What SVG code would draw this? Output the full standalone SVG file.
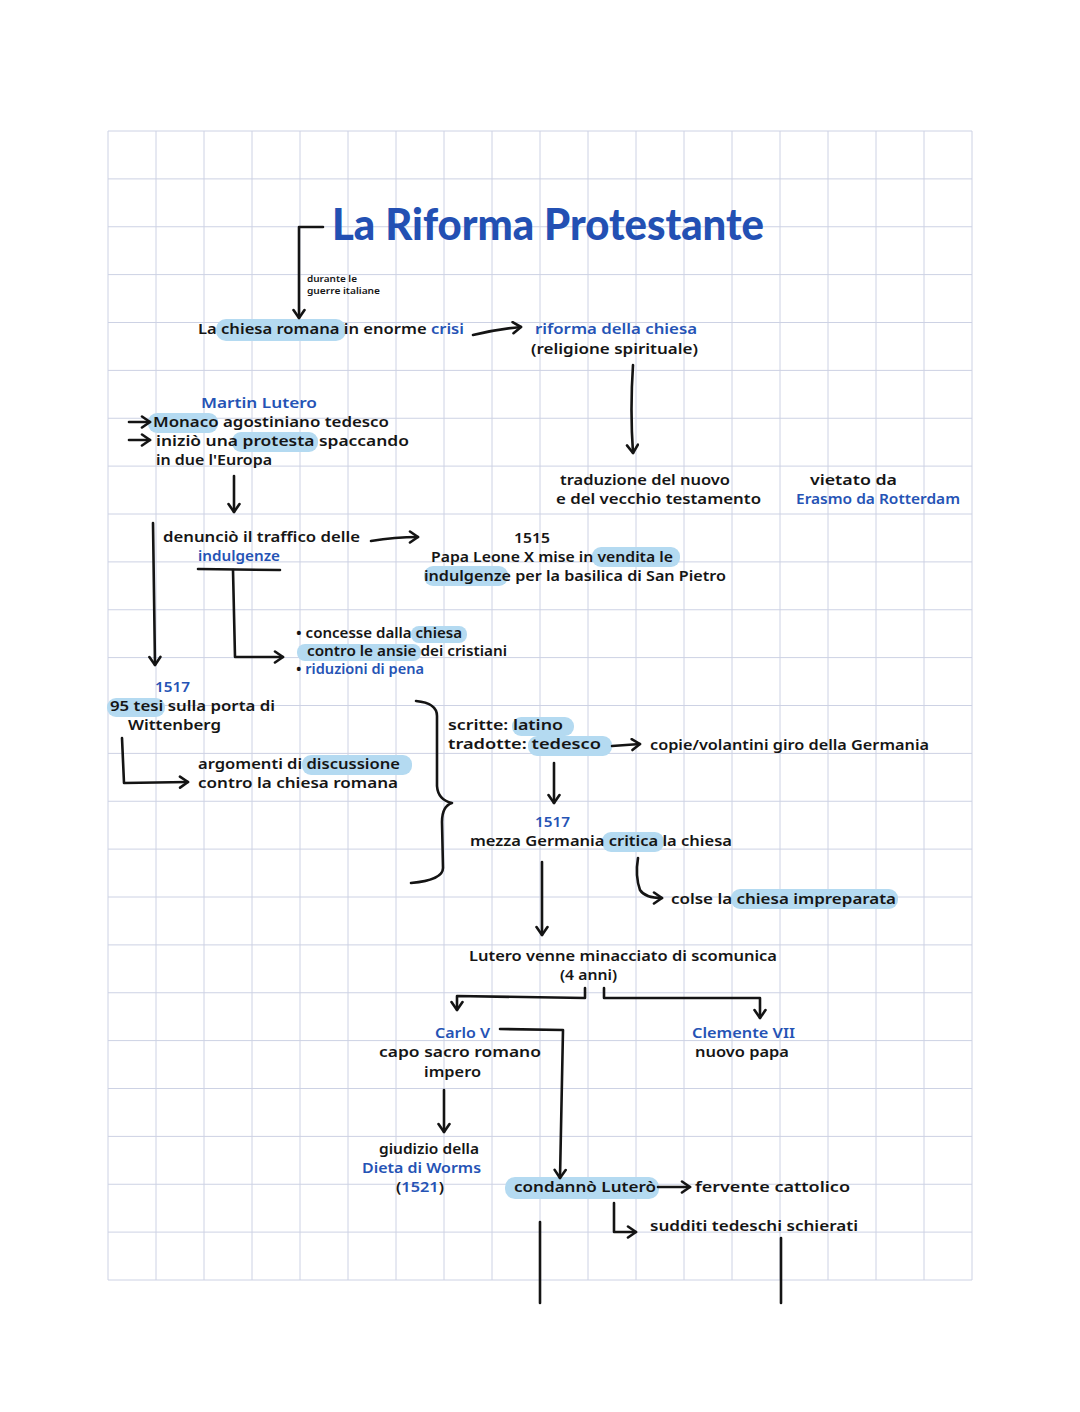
<svg xmlns="http://www.w3.org/2000/svg" width="1080" height="1412" viewBox="0 0 1080 1412">
<defs>
<style>
.t{font-family:"Noto Sans","Open Sans","DejaVu Sans",sans-serif;font-weight:600;font-size:15px;fill:#151515}
.b{fill:#2553b5}
.s{font-size:9px}
.m{font-size:13.5px}
.ttl{font-family:"Lato","Noto Sans",sans-serif;font-weight:900;font-size:44px;fill:#2350b3}
.hl{fill:#b4daf1}
.c{fill:none;stroke:#141414;stroke-width:2.6;stroke-linecap:round;stroke-linejoin:round}
.grid{fill:none;stroke:#cdd2e4;stroke-width:1}
</style>
<marker id="ah" viewBox="0 0 14 14" refX="11" refY="7" markerWidth="14" markerHeight="14" markerUnits="userSpaceOnUse" orient="auto">
<path d="M3,1.5 L11,7 L3,12.5" fill="none" stroke="#141414" stroke-width="2.6" stroke-linecap="round" stroke-linejoin="round"/>
</marker>
</defs>
<rect width="1080" height="1412" fill="#ffffff"/>
<g id="grid">
<path class="grid" d="M108,131V1280M156,131V1280M204,131V1280M252,131V1280M300,131V1280M348,131V1280M396,131V1280M444,131V1280M492,131V1280M540,131V1280M588,131V1280M636,131V1280M684,131V1280M732,131V1280M780,131V1280M828,131V1280M876,131V1280M924,131V1280M972,131V1280M108,131H972M108,178.9H972M108,226.75H972M108,274.6H972M108,322.5H972M108,370.4H972M108,418.25H972M108,466.1H972M108,514H972M108,561.9H972M108,609.75H972M108,657.6H972M108,705.5H972M108,753.4H972M108,801.25H972M108,849.1H972M108,897H972M108,944.9H972M108,992.75H972M108,1040.6H972M108,1088.5H972M108,1136.4H972M108,1184.25H972M108,1232.1H972M108,1280H972"/>
</g>
<g id="highlights">
<rect class="hl" x="216" y="319" width="130" height="22" rx="10"/>
<rect class="hl" x="148" y="413" width="70" height="20" rx="9"/>
<rect class="hl" x="232" y="432" width="86" height="20" rx="9"/>
<rect class="hl" x="592" y="547" width="88" height="20" rx="9"/>
<rect class="hl" x="424" y="566" width="84" height="20" rx="9"/>
<rect class="hl" x="411" y="626" width="56" height="17" rx="8"/>
<rect class="hl" x="297" y="644" width="124" height="17" rx="8"/>
<rect class="hl" x="107" y="698" width="58" height="19" rx="9"/>
<rect class="hl" x="302" y="755" width="110" height="20" rx="9"/>
<rect class="hl" x="512" y="717" width="62" height="19" rx="9"/>
<rect class="hl" x="528" y="736" width="84" height="20" rx="9"/>
<rect class="hl" x="602" y="832" width="62" height="20" rx="9"/>
<rect class="hl" x="731" y="889" width="167" height="20" rx="9"/>
<rect class="hl" x="505" y="1177" width="154" height="22" rx="10"/>
</g>
<g id="connectors">
<path class="c" d="M323,227 L299,227 L299,318" marker-end="url(#ah)"/>
<path class="c" d="M473,335 Q498,329 521,327" stroke-width="3.4" marker-end="url(#ah)"/>
<path class="c" d="M633,365 Q630,410 633,453" marker-end="url(#ah)"/>
<path class="c" d="M129,422 L150,422" marker-end="url(#ah)"/>
<path class="c" d="M129,440 L150,440" marker-end="url(#ah)"/>
<path class="c" d="M234,476 L234,512" marker-end="url(#ah)"/>
<path class="c" d="M371,541 Q395,537 418,537" marker-end="url(#ah)"/>
<path class="c" d="M198,569 L280,570" stroke-width="3"/>
<path class="c" d="M233,570 L235,657 L283,657" stroke-width="3" marker-end="url(#ah)"/>
<path class="c" d="M153,523 L155,665" marker-end="url(#ah)"/>
<path class="c" d="M122,738 L124,783 L188,782" stroke-width="3" marker-end="url(#ah)"/>
<path class="c" d="M416,701 Q437,703 437,716 L437,786 Q438,800 452,803 Q442,806 442,822 L443,868 Q443,880 411,883" stroke-width="3"/>
<path class="c" d="M612,746 L640,744" marker-end="url(#ah)"/>
<path class="c" d="M554,763 L554,803" marker-end="url(#ah)"/>
<path class="c" d="M638,858 Q635,876 640,890 Q645,898 662,898" marker-end="url(#ah)"/>
<path class="c" d="M542,862 L542,935" marker-end="url(#ah)"/>
<path class="c" d="M585,988 L585,998 L457,996 L457,1010" marker-end="url(#ah)"/>
<path class="c" d="M604,988 L604,998 L760,998 L760,1018" marker-end="url(#ah)"/>
<path class="c" d="M500,1029 L563,1030 L560,1178" marker-end="url(#ah)"/>
<path class="c" d="M444,1090 L444,1132" marker-end="url(#ah)"/>
<path class="c" d="M658,1187 L690,1187" marker-end="url(#ah)"/>
<path class="c" d="M614,1203 L614,1232 L636,1232" marker-end="url(#ah)"/>
<path class="c" d="M540,1222 L540,1303"/>
<path class="c" d="M781,1238 L781,1303"/>
</g>
<g id="title"><text class="ttl" x="332" y="240" textLength="432" lengthAdjust="spacingAndGlyphs">La Riforma Protestante</text></g>
<g id="durante"><text class="t s" x="307" y="282" textLength="50" lengthAdjust="spacingAndGlyphs">durante le</text><text class="t s" x="307" y="294" textLength="73" lengthAdjust="spacingAndGlyphs">guerre italiane</text></g>
<g id="chiesa-crisi"><text class="t" x="198" y="334" textLength="266" lengthAdjust="spacingAndGlyphs">La chiesa romana in enorme <tspan class="b">crisi</tspan></text></g>
<g id="riforma"><text class="t b" x="535" y="334" textLength="162" lengthAdjust="spacingAndGlyphs">riforma della chiesa</text><text class="t" x="531" y="354" textLength="167" lengthAdjust="spacingAndGlyphs">(religione spirituale)</text></g>
<g id="traduzione"><text class="t" x="560" y="485" textLength="170" lengthAdjust="spacingAndGlyphs">traduzione del nuovo</text><text class="t" x="556" y="504" textLength="205" lengthAdjust="spacingAndGlyphs">e del vecchio testamento</text></g>
<g id="vietato"><text class="t" x="810" y="485" textLength="87" lengthAdjust="spacingAndGlyphs">vietato da</text><text class="t b" x="796" y="504" textLength="164" lengthAdjust="spacingAndGlyphs">Erasmo da Rotterdam</text></g>
<g id="lutero"><text class="t b" x="201" y="408" textLength="116" lengthAdjust="spacingAndGlyphs">Martin Lutero</text><text class="t" x="153" y="427" textLength="236" lengthAdjust="spacingAndGlyphs">Monaco agostiniano tedesco</text><text class="t" x="156" y="446" textLength="253" lengthAdjust="spacingAndGlyphs">iniziò una protesta spaccando</text><text class="t" x="156" y="465" textLength="116" lengthAdjust="spacingAndGlyphs">in due l'Europa</text></g>
<g id="denuncio"><text class="t" x="163" y="542" textLength="197" lengthAdjust="spacingAndGlyphs">denunciò il traffico delle</text><text class="t b" x="198" y="561" textLength="82" lengthAdjust="spacingAndGlyphs">indulgenze</text></g>
<g id="papa"><text class="t" x="514" y="543" textLength="36" lengthAdjust="spacingAndGlyphs">1515</text><text class="t" x="431" y="562" textLength="242" lengthAdjust="spacingAndGlyphs">Papa Leone X mise in vendita le</text><text class="t" x="424" y="581" textLength="302" lengthAdjust="spacingAndGlyphs">indulgenze per la basilica di San Pietro</text></g>
<g id="concesse"><text class="t m" x="296" y="638" textLength="166" lengthAdjust="spacingAndGlyphs">• concesse dalla chiesa</text><text class="t m" x="307" y="656" textLength="200" lengthAdjust="spacingAndGlyphs">contro le ansie dei cristiani</text><text class="t m" x="296" y="674" textLength="128" lengthAdjust="spacingAndGlyphs">• <tspan class="b">riduzioni di pena</tspan></text></g>
<g id="tesi"><text class="t b" x="155" y="692" textLength="35" lengthAdjust="spacingAndGlyphs">1517</text><text class="t" x="110" y="711" textLength="165" lengthAdjust="spacingAndGlyphs">95 tesi sulla porta di</text><text class="t" x="128" y="730" textLength="93" lengthAdjust="spacingAndGlyphs">Wittenberg</text></g>
<g id="argomenti"><text class="t" x="198" y="769" textLength="202" lengthAdjust="spacingAndGlyphs">argomenti di discussione</text><text class="t" x="198" y="788" textLength="200" lengthAdjust="spacingAndGlyphs">contro la chiesa romana</text></g>
<g id="scritte"><text class="t" x="448" y="730" textLength="115" lengthAdjust="spacingAndGlyphs">scritte: latino</text><text class="t" x="448" y="749" textLength="153" lengthAdjust="spacingAndGlyphs">tradotte: tedesco</text></g>
<g id="copie"><text class="t" x="650" y="750" textLength="279" lengthAdjust="spacingAndGlyphs">copie/volantini giro della Germania</text></g>
<g id="mezza"><text class="t b" x="535" y="827" textLength="35" lengthAdjust="spacingAndGlyphs">1517</text><text class="t" x="470" y="846" textLength="262" lengthAdjust="spacingAndGlyphs">mezza Germania critica la chiesa</text></g>
<g id="colse"><text class="t" x="671" y="904" textLength="225" lengthAdjust="spacingAndGlyphs">colse la chiesa impreparata</text></g>
<g id="scomunica"><text class="t" x="469" y="961" textLength="308" lengthAdjust="spacingAndGlyphs">Lutero venne minacciato di scomunica</text><text class="t" x="560" y="980" textLength="57" lengthAdjust="spacingAndGlyphs">(4 anni)</text></g>
<g id="carlo"><text class="t b" x="435" y="1038" textLength="55" lengthAdjust="spacingAndGlyphs">Carlo V</text><text class="t" x="379" y="1057" textLength="162" lengthAdjust="spacingAndGlyphs">capo sacro romano</text><text class="t" x="424" y="1077" textLength="57" lengthAdjust="spacingAndGlyphs">impero</text></g>
<g id="clemente"><text class="t b" x="692" y="1038" textLength="103" lengthAdjust="spacingAndGlyphs">Clemente VII</text><text class="t" x="695" y="1057" textLength="94" lengthAdjust="spacingAndGlyphs">nuovo papa</text></g>
<g id="dieta"><text class="t" x="379" y="1154" textLength="100" lengthAdjust="spacingAndGlyphs">giudizio della</text><text class="t b" x="362" y="1173" textLength="119" lengthAdjust="spacingAndGlyphs">Dieta di Worms</text><text class="t" x="396" y="1192" textLength="48" lengthAdjust="spacingAndGlyphs">(<tspan class="b">1521</tspan>)</text></g>
<g id="condanno"><text class="t" x="514" y="1192" textLength="142" lengthAdjust="spacingAndGlyphs">condannò Luterò</text></g>
<g id="fervente"><text class="t" x="695" y="1192" textLength="155" lengthAdjust="spacingAndGlyphs">fervente cattolico</text></g>
<g id="sudditi"><text class="t" x="650" y="1231" textLength="208" lengthAdjust="spacingAndGlyphs">sudditi tedeschi schierati</text></g>
</svg>
